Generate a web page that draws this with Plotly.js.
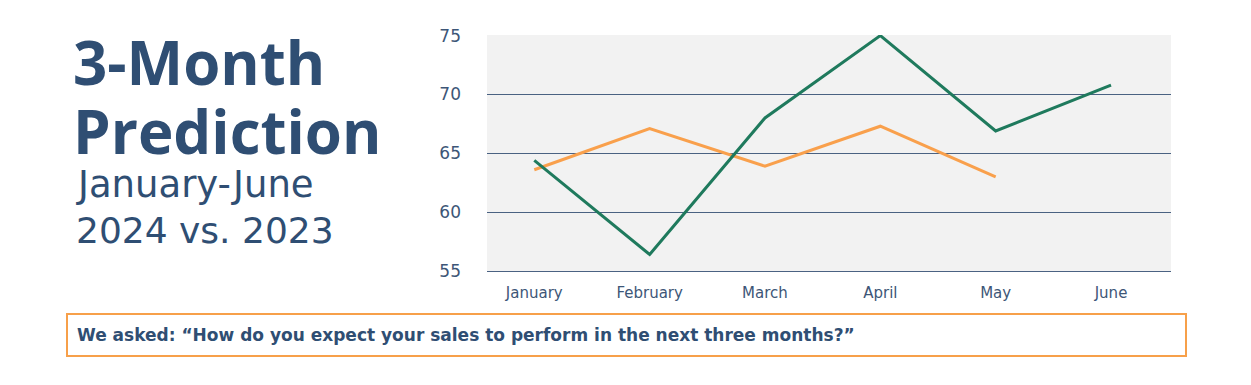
<!DOCTYPE html>
<html><head><meta charset="utf-8">
<script src="https://cdn.plot.ly/plotly-3.0.1.min.js"></script>
<style>html,body{margin:0;padding:0;background:#fff}</style>
</head><body><div id="chart" style="width:1251px;height:385px"></div>
<script>
const months = ["January","February","March","April","May","June"];
const values2024 = [64.4, 56.4, 68.0, 75.0, 66.9, 70.8];
const values2023 = [63.6, 67.1, 63.9, 67.3, 63.0, null];
const yTicks = [55, 60, 65, 70, 75];

const navy = "#2f4e73";
const L = 487, R = 1171, T = 35, B = 271;
const px = x => (x - L) / (R - L);
const py = y => (B - y) / (B - T);

const traces = [
  {x: months, y: values2023, type: "scatter", mode: "lines", name: "2023",
   line: {color: "#f9a04c", width: 3}, hoverinfo: "skip"},
  {x: months, y: values2024, type: "scatter", mode: "lines", name: "2024",
   line: {color: "#1f7a5d", width: 3}, hoverinfo: "skip"}
];

const layout = {
  width: 1251, height: 385,
  margin: {l: L, r: 1251 - R, t: T, b: 385 - B, pad: 0},
  paper_bgcolor: "#ffffff", plot_bgcolor: "#f2f2f2",
  showlegend: false,
  font: {family: "Open Sans, sans-serif", color: navy},
  xaxis: {type: "category", range: [-0.41, 5.52], showgrid: false, zeroline: false,
          showline: true, linecolor: "#4a6282", linewidth: 1, ticks: "", ticklabelstandoff: 8,
          tickfont: {size: 15, color: "#3d5677", family: "DejaVu Sans"}},
  yaxis: {range: [55, 75.05], tickvals: yTicks, showgrid: true, gridcolor: "#4a6282",
          gridwidth: 1, zeroline: false, showline: false, ticks: "", ticklabelstandoff: 25,
          tickfont: {size: 17, color: "#3d5677", family: "DejaVu Sans"}},
  shapes: [
    {type: "rect", xref: "paper", yref: "paper", x0: px(67), x1: px(1186), y0: py(356), y1: py(314),
     line: {color: "#f7a04a", width: 2}, fillcolor: "rgba(0,0,0,0)"}
  ],
  annotations: [
    {text: "3-Month", xref: "paper", yref: "paper", x: px(71), y: py(62), xanchor: "left", yanchor: "middle",
     showarrow: false, font: {size: 60, weight: 700, color: navy, family: "Open Sans"}},
    {text: "Prediction", xref: "paper", yref: "paper", x: px(71), y: py(131), xanchor: "left", yanchor: "middle",
     showarrow: false, font: {size: 60, weight: 700, color: navy, family: "Open Sans"}},
    {text: "January-June", xref: "paper", yref: "paper", x: px(74), y: py(184), xanchor: "left", yanchor: "middle",
     showarrow: false, font: {size: 37, color: navy, family: "DejaVu Sans"}},
    {text: "2024 vs. 2023", xref: "paper", yref: "paper", x: px(74), y: py(230), xanchor: "left", yanchor: "middle",
     showarrow: false, font: {size: 36, color: navy, family: "DejaVu Sans"}},
    {text: "We asked: “How do you expect your sales to perform in the next three months?”",
     xref: "paper", yref: "paper", x: px(75), y: py(335), xanchor: "left", yanchor: "middle",
     showarrow: false, font: {size: 17, weight: 700, color: navy, family: "DejaVu Sans"}}
  ]
};

Plotly.newPlot("chart", traces, layout, {displayModeBar: false, staticPlot: true});
</script>
</body></html>
